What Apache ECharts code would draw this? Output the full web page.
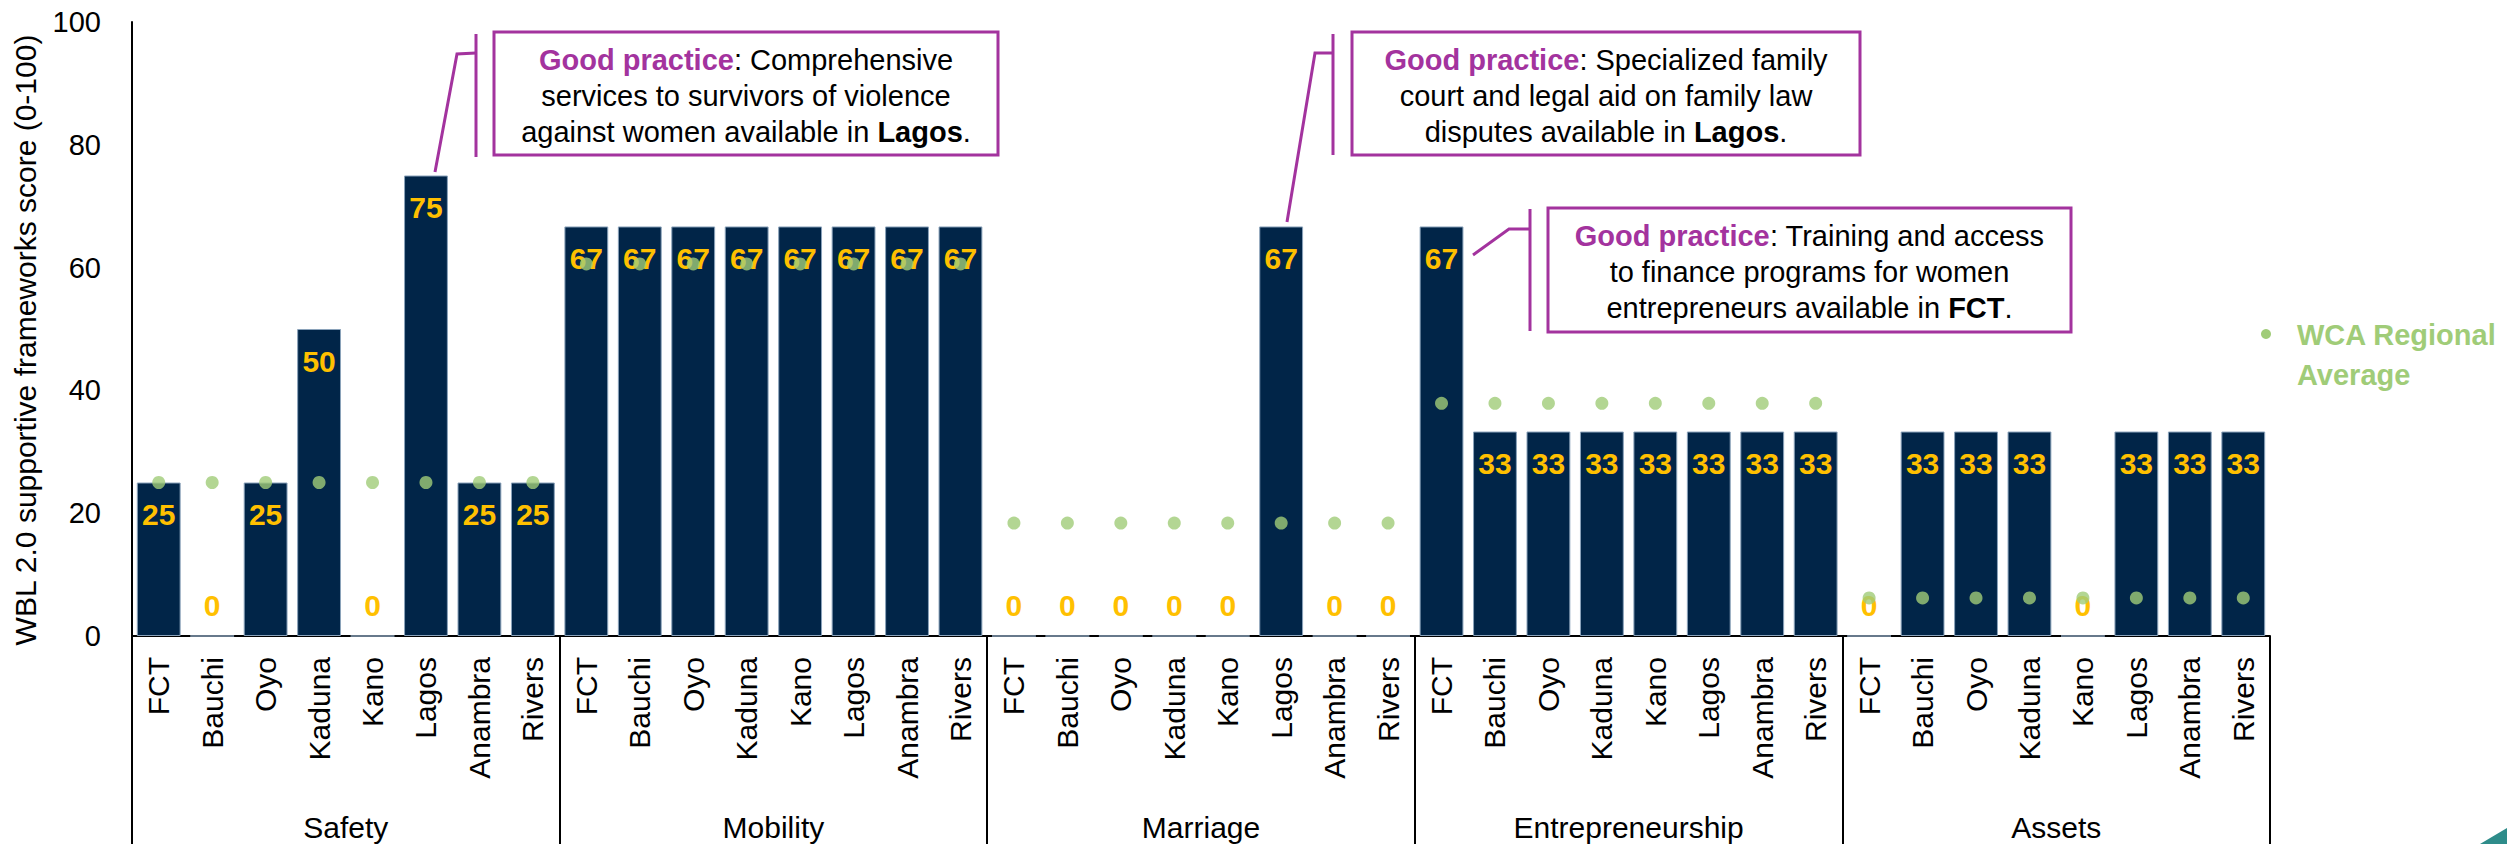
<!DOCTYPE html>
<html><head><meta charset="utf-8">
<script src="https://cdn.jsdelivr.net/npm/echarts@6/dist/echarts.min.js"></script>
<style>html,body{margin:0;padding:0;background:#fff}#c{width:2507px;height:844px}</style>
</head><body><div id="c"></div>
<script>
// ---- data ----
const states = ['FCT', 'Bauchi', 'Oyo', 'Kaduna', 'Kano', 'Lagos', 'Anambra', 'Rivers'];
const groups = ['Safety', 'Mobility', 'Marriage', 'Entrepreneurship', 'Assets'];
const safety = [25, 0, 25, 50, 0, 75, 25, 25];
const mobility = [66.7, 66.7, 66.7, 66.7, 66.7, 66.7, 66.7, 66.7];
const marriage = [0, 0, 0, 0, 0, 66.7, 0, 0];
const entrepreneurship = [66.7, 33.3, 33.3, 33.3, 33.3, 33.3, 33.3, 33.3];
const assets = [0, 33.3, 33.3, 33.3, 0, 33.3, 33.3, 33.3];
const wcaSafety = [25, 25, 25, 25, 25, 25, 25, 25];
const wcaMobility = [60.6, 60.6, 60.6, 60.6, 60.6, 60.6, 60.6, 60.6];
const wcaMarriage = [18.4, 18.4, 18.4, 18.4, 18.4, 18.4, 18.4, 18.4];
const wcaEntrepreneurship = [37.9, 37.9, 37.9, 37.9, 37.9, 37.9, 37.9, 37.9];
const wcaAssets = [6.2, 6.2, 6.2, 6.2, 6.2, 6.2, 6.2, 6.2];
const yTicks = [0, 20, 40, 60, 80, 100];
const yTitle = 'WBL 2.0 supportive frameworks score (0-100)';
const seriesNames = ['Score', 'WCA Regional Average'];
const legendText = 'WCA Regional\nAverage';

// ---- build ----
const FONT = '"Liberation Sans", Arial, sans-serif';
const categories = [];
groups.forEach(() => states.forEach(s => categories.push(s)));
const scores = [].concat(safety, mobility, marriage, entrepreneurship, assets);
const wca = [].concat(wcaSafety, wcaMobility, wcaMarriage, wcaEntrepreneurship, wcaAssets);

const barData = scores.map(v => v === 0
  ? { value: v, label: { position: 'top', distance: 15 } }
  : { value: v });

const PURPLE = '#A3339E';
const GREEN = '#A0CC78';
const chart = echarts.init(document.getElementById('c'), null, { renderer: 'svg' });

const FS = 29, LH = 36;
const richStyles = {
  p: { fontWeight: 'bold', fill: PURPLE, color: PURPLE, fontSize: FS, lineHeight: LH, fontFamily: FONT },
  b: { fontWeight: 'bold', fill: '#000', color: '#000', fontSize: FS, lineHeight: LH, fontFamily: FONT }
};
function box(x, y, w, h, lines) {
  return [
    { type: 'rect', shape: { x: x, y: y, width: w, height: h }, style: { fill: '#fff', stroke: PURPLE, lineWidth: 3 }, z: 10 },
    { type: 'text', x: x + w / 2, y: y + h / 2 + 2, z: 11,
      style: { text: lines.join('\n'), rich: richStyles, align: 'center', verticalAlign: 'middle',
        fontSize: FS, lineHeight: LH, fill: '#000', fontFamily: FONT } }
  ];
}
function leader(pts, vx, vy1, vy2) {
  return [
    { type: 'polyline', shape: { points: pts }, style: { stroke: PURPLE, lineWidth: 3, fill: null }, z: 10 },
    { type: 'line', shape: { x1: vx, y1: vy1, x2: vx, y2: vy2 }, style: { stroke: PURPLE, lineWidth: 3 }, z: 10 }
  ];
}

const graphics = [].concat(
  box(494, 32, 504, 123, ['{p|Good practice}: Comprehensive', 'services to survivors of violence', 'against women available in {b|Lagos}.']),
  leader([[435, 172], [457, 54], [476, 53]], 476, 34, 157),
  box(1352, 32, 508, 123, ['{p|Good practice}: Specialized family', 'court and legal aid on family law', 'disputes available in {b|Lagos}.']),
  leader([[1287, 222], [1315, 53], [1333, 53]], 1333, 34, 155),
  box(1548, 208, 523, 124, ['{p|Good practice}: Training and access', 'to finance programs for women', 'entrepreneurs available in {b|FCT}.']),
  leader([[1473, 255], [1509, 229], [1530, 229]], 1530, 209, 331),
  [
    { type: 'circle', shape: { cx: 2266, cy: 334, r: 5 }, style: { fill: GREEN } },
    { type: 'text', x: 2297, y: 355,
      style: { text: legendText, fill: GREEN, fontWeight: 'bold', fontSize: 29, lineHeight: 40,
        fontFamily: FONT, align: 'left', verticalAlign: 'middle' } },
    { type: 'polygon', shape: { points: [[2480, 844], [2507, 828], [2507, 844]] }, style: { fill: '#2E8C8A' } }
  ]
);

chart.setOption({
  backgroundColor: '#fff',
  animation: false,
  textStyle: { fontFamily: FONT },
  grid: { left: 132, right: 237, top: 22, bottom: 208, containLabel: false },
  xAxis: [
    {
      type: 'category', data: categories, position: 'bottom',
      axisLine: { show: true, lineStyle: { color: '#000', width: 2 } },
      axisTick: { show: false },
      axisLabel: { interval: 0, rotate: 90, margin: 21, fontSize: 30, color: '#000', fontFamily: FONT }
    },
    {
      type: 'category', data: groups, position: 'bottom',
      axisLine: { show: false },
      axisTick: { show: true, length: 208, interval: 0, lineStyle: { color: '#000', width: 2 } },
      axisLabel: { interval: 0, margin: 176, fontSize: 30, color: '#000', fontFamily: FONT }
    }
  ],
  yAxis: {
    type: 'value', min: 0, max: 100, interval: 20,
    axisLine: { show: true, lineStyle: { color: '#000', width: 2 } },
    axisTick: { show: false },
    splitLine: { show: false },
    axisLabel: { fontSize: 29, color: '#000', margin: 31, fontFamily: FONT,
      formatter: v => (yTicks.indexOf(v) >= 0 ? String(v) : '') },
    name: yTitle, nameLocation: 'middle', nameGap: 92,
    nameTextStyle: { fontSize: 30, color: '#000', fontFamily: FONT, padding: [0, 22, 0, 0] }
  },
  series: [
    {
      name: seriesNames[0], type: 'bar', xAxisIndex: 0, data: barData,
      barCategoryGap: '18%',
      itemStyle: { color: '#012548', borderColor: '#8aa2ba', borderWidth: 1 },
      label: { show: true, position: 'insideTop', distance: 17, color: '#FFC000', fontWeight: 'bold',
        fontSize: 30, fontFamily: FONT, formatter: p => String(Math.round(p.value)) },
      z: 2
    },
    {
      name: seriesNames[1], type: 'scatter', xAxisIndex: 0, data: wca,
      symbol: 'circle', symbolSize: 13,
      itemStyle: { color: GREEN },
      z: 3
    }
  ],
  graphic: graphics
});
</script></body></html>
